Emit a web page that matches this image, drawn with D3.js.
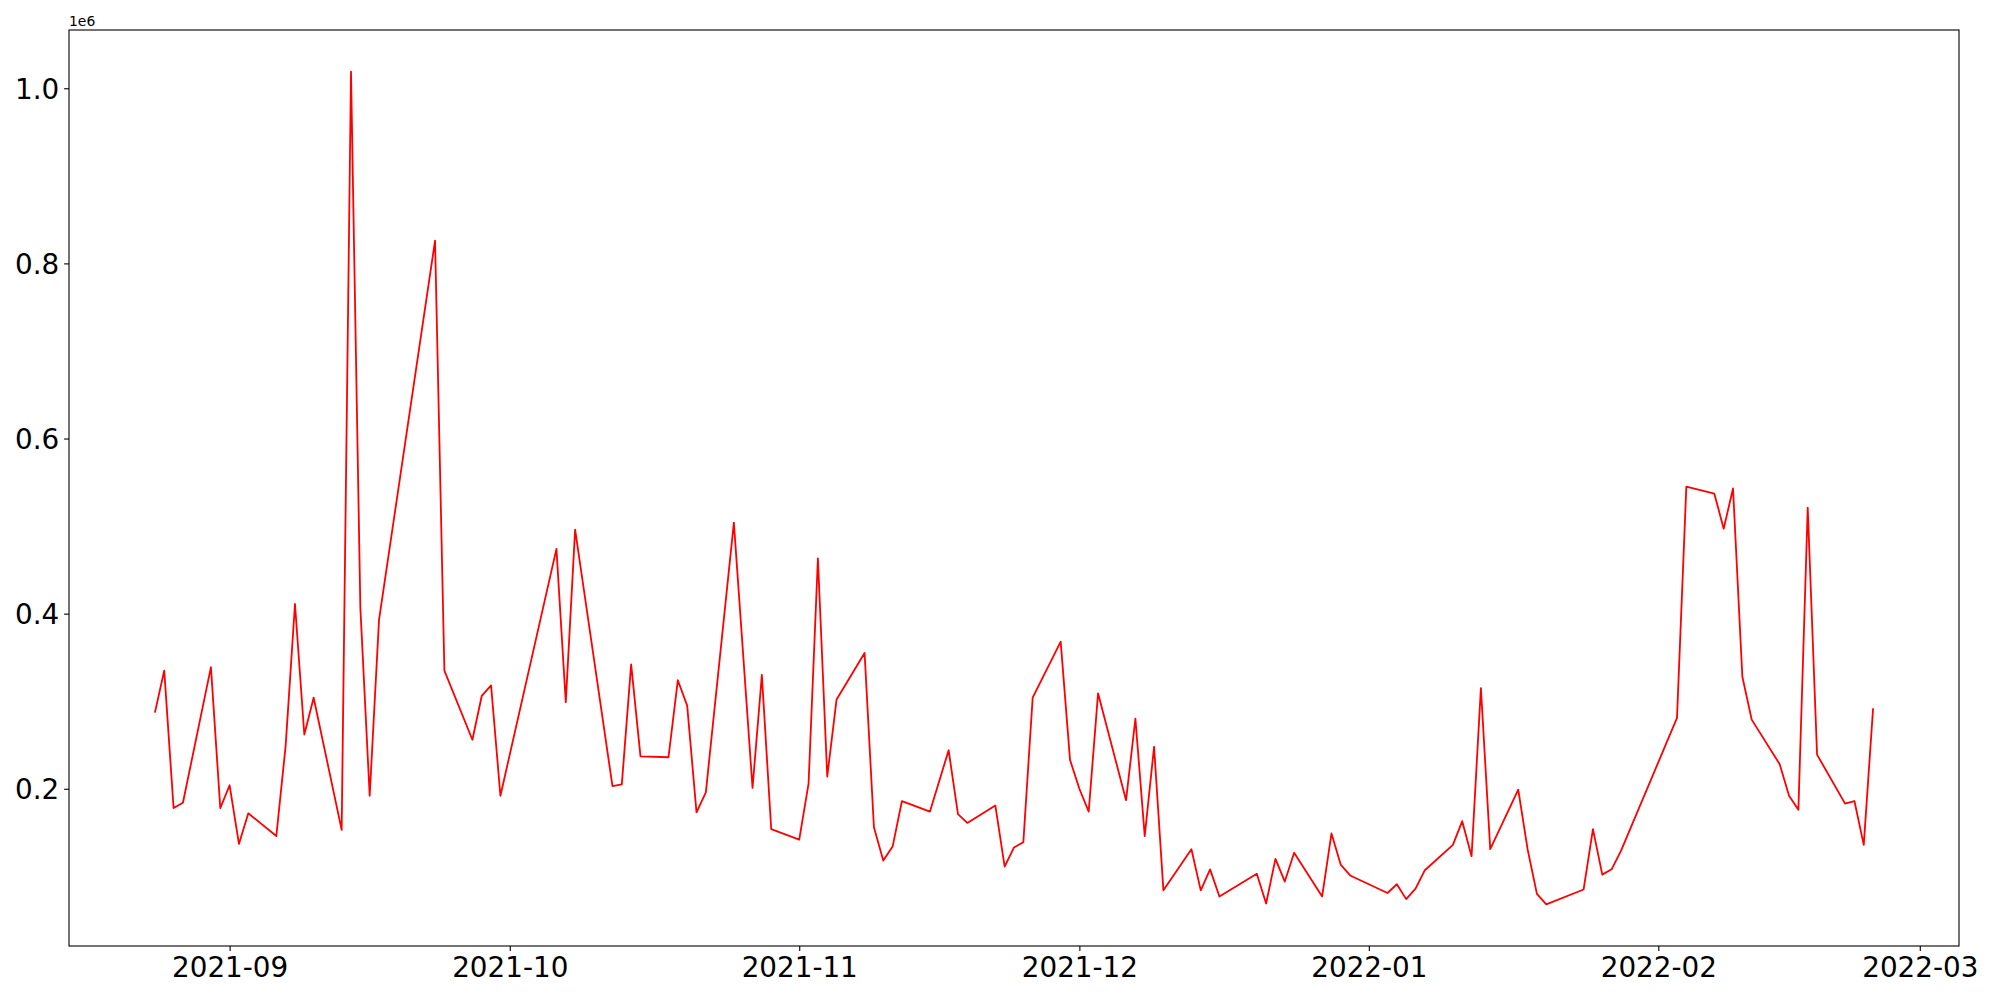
<!DOCTYPE html>
<html>
<head>
<meta charset="utf-8">
<script src="https://cdn.jsdelivr.net/npm/d3@7"></script>
<style>
  body { margin: 0; background: #fff; }
  svg text { font-family: "DejaVu Sans", sans-serif; fill: #000; }
</style>
</head>
<body>
<div id="corpo"></div>
<script>
// dias (pregao) e volumes
var dias = [
    "2021-08-24","2021-08-25","2021-08-26","2021-08-27","2021-08-30","2021-08-31",
    "2021-09-01","2021-09-02","2021-09-03","2021-09-06","2021-09-07","2021-09-08","2021-09-09","2021-09-10",
    "2021-09-13","2021-09-14","2021-09-15","2021-09-16","2021-09-17","2021-09-23","2021-09-24",
    "2021-09-27","2021-09-28","2021-09-29","2021-09-30","2021-10-06","2021-10-07","2021-10-08",
    "2021-10-12","2021-10-13","2021-10-14","2021-10-15","2021-10-18","2021-10-19","2021-10-20","2021-10-21","2021-10-22",
    "2021-10-25","2021-10-27","2021-10-28","2021-10-29","2021-11-01","2021-11-02","2021-11-03","2021-11-04","2021-11-05",
    "2021-11-08","2021-11-09","2021-11-10","2021-11-11","2021-11-12","2021-11-15","2021-11-17","2021-11-18","2021-11-19",
    "2021-11-22","2021-11-23","2021-11-24","2021-11-25","2021-11-26","2021-11-29","2021-11-30","2021-12-01","2021-12-02","2021-12-03",
    "2021-12-06","2021-12-07","2021-12-08","2021-12-09","2021-12-10","2021-12-13","2021-12-14","2021-12-15","2021-12-16",
    "2021-12-20","2021-12-21","2021-12-22","2021-12-23","2021-12-24","2021-12-27","2021-12-28","2021-12-29","2021-12-30",
    "2022-01-03","2022-01-04","2022-01-05","2022-01-06","2022-01-07","2022-01-10","2022-01-11","2022-01-12","2022-01-13","2022-01-14",
    "2022-01-17","2022-01-18","2022-01-19","2022-01-20","2022-01-24","2022-01-25","2022-01-26","2022-01-27","2022-01-28",
    "2022-02-03","2022-02-04","2022-02-07","2022-02-08","2022-02-09","2022-02-10","2022-02-11",
    "2022-02-14","2022-02-15","2022-02-16","2022-02-17","2022-02-18","2022-02-21","2022-02-22","2022-02-23","2022-02-24"
];

var volumes = [
    287000, 335000, 178000, 184000, 339000, 178000,
    204000, 137000, 172000, 146000, 249000, 411000, 262000, 304000,
    153000, 1019000, 407000, 192000, 393000, 826000, 335000,
    256000, 306000, 318000, 192000, 474000, 299000, 496000,
    203000, 205000, 342000, 237000, 236000, 324000, 295000, 173000, 196000,
    504000, 201000, 330000, 154000, 142000, 206000, 463000, 214000, 302000,
    355000, 156000, 118000, 134000, 186000, 174000, 244000, 171000, 161000,
    181000, 111000, 133000, 139000, 304000, 368000, 233000, 200000, 174000, 309000,
    187000, 280000, 146000, 248000, 84000, 131000, 84000, 108000, 77000,
    103000, 69000, 120000, 94000, 127000, 77000, 149000, 113000, 101000,
    81000, 91000, 74000, 86000, 107000, 136000, 163000, 123000, 315000, 131000,
    199000, 131000, 80000, 68000, 85000, 154000, 102000, 108000, 129000,
    281000, 545000, 537000, 497000, 543000, 328000, 279000,
    228000, 192000, 176000, 521000, 239000, 183000, 186000, 136000, 292000
];

var ticksX = ["2021-09-01","2021-10-01","2021-11-01","2021-12-01","2022-01-01","2022-02-01","2022-03-01"];
var ticksY = [200000, 400000, 600000, 800000, 1000000];

var chartWidth = 2000;
var chartHeight = 1000;
var margin = {top: 30, right: 41, bottom: 54, left: 69},
    width = chartWidth - margin.left - margin.right,
    height = chartHeight - margin.top - margin.bottom;

var parseTime = d3.utcParse("%Y-%m-%d");
var formatTick = d3.utcFormat("%Y-%m");

var dados = dias.map(function(d, i) {
    return {dia: parseTime(d), valor: volumes[i]};
});

// margem de 5% como no matplotlib
var ext = d3.extent(dados, function(d) { return d.dia; });
var padX = (ext[1] - ext[0]) * 0.05;
var x = d3.scaleUtc()
    .domain([new Date(+ext[0] - padX), new Date(+ext[1] + padX)])
    .range([0, width]);

var min = d3.min(dados, function(d) { return d.valor; });
var max = d3.max(dados, function(d) { return d.valor; });
var padY = (max - min) * 0.05;
var y = d3.scaleLinear()
    .domain([min - padY, max + padY])
    .range([height, 0]);

var valueline = d3.line()
    .x(function(d) { return x(d.dia); })
    .y(function(d) { return y(d.valor); });

var svg = d3.select("#corpo").append("svg")
    .attr("width", chartWidth)
    .attr("height", chartHeight)
    .append("g")
    .attr("transform", "translate(" + margin.left + "," + margin.top + ")");

svg.append("path")
    .data([dados])
    .attr("fill", "none")
    .style("stroke", "#ff0000")
    .style("stroke-width", 1.8)
    .style("stroke-linejoin", "round")
    .style("stroke-linecap", "butt")
    .attr("d", valueline);

// eixo X
var eixoX = svg.append("g")
    .attr("transform", "translate(0," + height + ")")
    .call(d3.axisBottom(x)
        .tickValues(ticksX.map(parseTime))
        .tickFormat(formatTick)
        .tickSizeInner(4.9)
        .tickSizeOuter(0)
        .tickPadding(4.9));

// eixo Y
var eixoY = svg.append("g")
    .call(d3.axisLeft(y)
        .tickValues(ticksY)
        .tickFormat(function(d) { return (d / 1e6).toFixed(1); })
        .tickSizeInner(4.9)
        .tickSizeOuter(0)
        .tickPadding(4.9));

[eixoX, eixoY].forEach(function(g) {
    g.select(".domain").remove();
    g.selectAll("line").attr("stroke", "#000").attr("stroke-width", 1.1);
    g.selectAll("text")
        .style("font-family", "'DejaVu Sans', sans-serif")
        .style("font-size", "27.8px")
        .attr("fill", "#000");
});
eixoY.selectAll("text").attr("dy", "0.36em");
eixoX.selectAll("text").attr("dy", "0.76em");

// moldura
svg.append("rect")
    .attr("x", 0)
    .attr("y", 0)
    .attr("width", width)
    .attr("height", height)
    .attr("fill", "none")
    .attr("stroke", "#000")
    .attr("stroke-width", 1.1);

// texto de offset
svg.append("text")
    .attr("x", 0)
    .attr("y", -4)
    .style("font-size", "13.9px")
    .text("1e6");
</script>
</body>
</html>
